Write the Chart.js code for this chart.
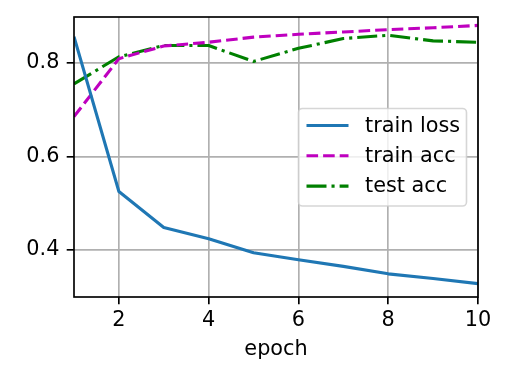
<!DOCTYPE html>
<html>
<head>
<meta charset="utf-8">
<script src="https://cdn.jsdelivr.net/npm/chart.js@4"></script>
<style>
html,body{margin:0;padding:0;background:#fff;}
#wrap{width:526px;height:379px;position:relative;}
</style>
</head>
<body>
<div id="wrap"><canvas id="c" width="526" height="379"></canvas></div>
<script>
const epochs = [1, 2, 3, 4, 5, 6, 7, 8, 9, 10];
const trainLoss = [0.856, 0.525, 0.448, 0.424, 0.394, 0.379, 0.365, 0.349, 0.339, 0.328];
const trainAcc = [0.685, 0.809, 0.836, 0.844, 0.855, 0.861, 0.866, 0.871, 0.875, 0.880];
const testAcc = [0.755, 0.813, 0.837, 0.837, 0.803, 0.831, 0.852, 0.859, 0.847, 0.844];
const xTicks = [2, 4, 6, 8, 10];
const yTicks = [0.4, 0.6, 0.8];
const seriesLabels = ['train loss', 'train acc', 'test acc'];
const xTitle = 'epoch';

const FONT = 'DejaVu Sans';
const FS = 20.8;

const toPts = (ys) => epochs.map((x, i) => ({x: x, y: ys[i]}));

const spines = {
  id: 'spines',
  afterDatasetsDraw(chart) {
    const a = chart.chartArea, ctx = chart.ctx;
    ctx.save();
    ctx.strokeStyle = '#000';
    ctx.lineWidth = 1.67;
    ctx.strokeRect(a.left, a.top, a.right - a.left, a.bottom - a.top);
    ctx.restore();
  }
};

const legendBox = {
  id: 'legendBox',
  afterDraw(chart) {
    const ctx = chart.ctx;
    const x0 = 298.5, y0 = 108.5, w = 168, h = 97.5;
    ctx.save();
    ctx.beginPath();
    if (ctx.roundRect) ctx.roundRect(x0, y0, w, h, 4); else ctx.rect(x0, y0, w, h);
    ctx.fillStyle = 'rgba(255,255,255,0.8)';
    ctx.fill();
    ctx.strokeStyle = 'rgba(204,204,204,0.8)';
    ctx.lineWidth = 1.6;
    ctx.stroke();
    const rowY = [125.5, 155.8, 186.1];
    chart.data.datasets.forEach((ds, i) => {
      const y = rowY[i];
      ctx.beginPath();
      ctx.setLineDash(ds.borderDash || []);
      ctx.lineDashOffset = 0;
      ctx.strokeStyle = ds.borderColor;
      ctx.lineWidth = ds.borderWidth;
      ctx.lineCap = 'butt';
      ctx.moveTo(306.5, y);
      ctx.lineTo(348.5, y);
      ctx.stroke();
      ctx.setLineDash([]);
      ctx.fillStyle = '#000';
      ctx.font = FS + 'px "' + FONT + '"';
      ctx.textBaseline = 'middle';
      ctx.textAlign = 'left';
      ctx.fillText(ds.label, 365, y + 1);
    });
    ctx.restore();
  }
};

new Chart(document.getElementById('c'), {
  type: 'line',
  data: {
    datasets: [
      {label: seriesLabels[0], data: toPts(trainLoss), borderColor: '#1f77b4', borderWidth: 3.1, borderDash: [], pointRadius: 0, tension: 0, fill: false, borderJoinStyle: 'round', borderCapStyle: 'butt'},
      {label: seriesLabels[1], data: toPts(trainAcc), borderColor: '#bf00bf', borderWidth: 3.1, borderDash: [11.6, 5], pointRadius: 0, tension: 0, fill: false, borderJoinStyle: 'round', borderCapStyle: 'butt'},
      {label: seriesLabels[2], data: toPts(testAcc), borderColor: '#008000', borderWidth: 3.1, borderDash: [20, 5, 3.1, 5], pointRadius: 0, tension: 0, fill: false, borderJoinStyle: 'round', borderCapStyle: 'butt'}
    ]
  },
  options: {
    responsive: false,
    animation: false,
    devicePixelRatio: 1,
    layout: {padding: {left: 0, right: 48, top: 17, bottom: 0}},
    plugins: {legend: {display: false}, tooltip: {enabled: false}},
    scales: {
      x: {
        type: 'linear',
        min: 1, max: 10,
        afterFit(s) { s.height = 82; s.paddingLeft = 0; s.paddingRight = 0; },
        afterBuildTicks(s) { s.ticks = xTicks.map(v => ({value: v})); },
        grid: {color: '#b0b0b0', lineWidth: 1.67, drawTicks: true, tickLength: 7.3, tickColor: '#000', tickWidth: 1.67},
        border: {display: false},
        ticks: {color: '#000', font: {family: FONT, size: FS}, padding: 4, maxRotation: 0, autoSkip: false, callback: v => String(v)},
        title: {display: true, text: xTitle, color: '#000', font: {family: FONT, size: FS}, padding: {top: 0, bottom: 17}}
      },
      y: {
        type: 'linear',
        min: 0.2995, max: 0.898,
        afterFit(s) { s.width = 74; s.paddingTop = 0; s.paddingBottom = 0; },
        afterBuildTicks(s) { s.ticks = yTicks.map(v => ({value: v})); },
        grid: {color: '#b0b0b0', lineWidth: 1.67, drawTicks: true, tickLength: 7.3, tickColor: '#000', tickWidth: 1.67},
        border: {display: false},
        ticks: {color: '#000', font: {family: FONT, size: FS}, padding: 7.3, autoSkip: false, callback: v => v.toFixed(1)}
      }
    }
  },
  plugins: [spines, legendBox]
});
</script>
</body>
</html>
